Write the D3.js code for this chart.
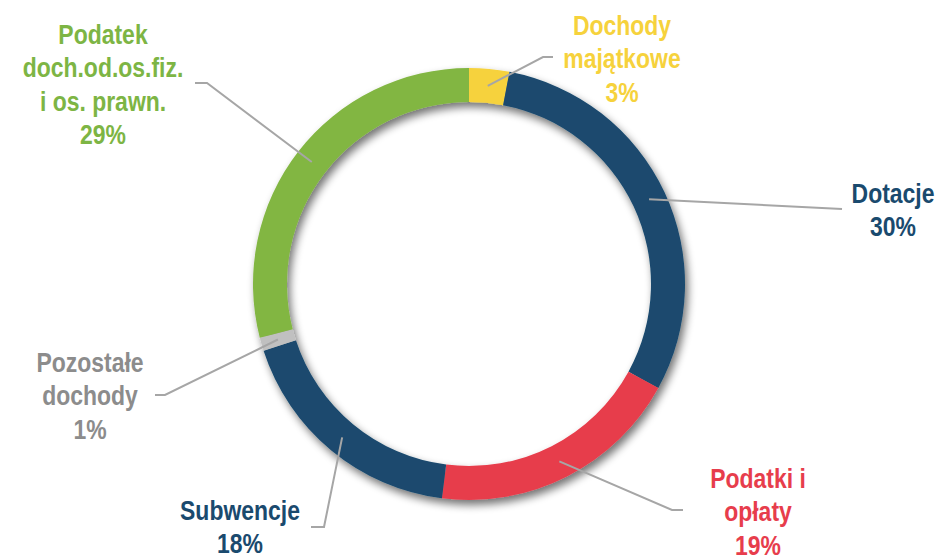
<!DOCTYPE html>
<html>
<head>
<meta charset="utf-8">
<script src="https://cdn.jsdelivr.net/npm/d3@7"></script>
<style>
  body { margin: 0; background: #fff; }
  text { font-family: "Liberation Sans Narrow", "Arial Narrow", "Liberation Sans", Arial, sans-serif; font-weight: bold; }
</style>
</head>
<body>
<div id="chart"></div>
<script>
// chart data
var categories = ["Dochody majątkowe", "Dotacje", "Podatki i opłaty", "Subwencje", "Pozostałe dochody", "Podatek doch.od.os.fiz. i os. prawn."];
var values = [3, 30, 19, 18, 1, 29];
var labelLines = [
  ["Dochody", "majątkowe", "3%"],
  ["Dotacje", "30%"],
  ["Podatki i", "opłaty", "19%"],
  ["Subwencje", "18%"],
  ["Pozostałe", "dochody", "1%"],
  ["Podatek", "doch.od.os.fiz.", "i os. prawn.", "29%"]
];
var colors = ["#F6D23C", "#1A4A6E", "#E73D4C", "#1A4A6E", "#C0C0C0", "#82B642"];
var textColors = ["#F6D23C", "#1A4A6E", "#E73D4C", "#1A4A6E", "#8C8C8C", "#7DB544"];

// label layout (text block centre x, first baseline y, elbow and end of leader)
var labelLayout = [
  { x: 622, y: 35, elbow: [543, 57], end: [553, 57] },
  { x: 893, y: 203, elbow: [842, 209], end: [842, 209] },
  { x: 758, y: 488, elbow: [672, 510], end: [683, 510] },
  { x: 240, y: 520, elbow: [324, 527], end: [311, 527] },
  { x: 90, y: 372, elbow: [165, 395], end: [155, 395] },
  { x: 103, y: 44, elbow: [207, 83], end: [195, 83] }
];

var width = 942;
var height = 555;
var cx = 469, cy = 284;
var outerR = 216, innerR = 182;
var lineH = 33.5;

var svg = d3.select("#chart")
  .append("svg")
  .attr("width", width)
  .attr("height", height);

// drop shadow for the ring
var defs = svg.append("defs");
var filter = defs.append("filter")
  .attr("id", "shadow")
  .attr("x", "-20%").attr("y", "-20%")
  .attr("width", "140%").attr("height", "140%");
filter.append("feGaussianBlur").attr("in", "SourceAlpha").attr("stdDeviation", 4);
filter.append("feOffset").attr("dx", 3).attr("dy", 5).attr("result", "off");
filter.append("feComponentTransfer").append("feFuncA").attr("type", "linear").attr("slope", 0.55);
var merge = filter.append("feMerge");
merge.append("feMergeNode");
merge.append("feMergeNode").attr("in", "SourceGraphic");

var pie = d3.pie().sort(null).value(function(d) { return d; });
var arcs = pie(values);

var arc = d3.arc().innerRadius(innerR).outerRadius(outerR);
var midArc = d3.arc().innerRadius((innerR + outerR) / 2).outerRadius((innerR + outerR) / 2);

var g = svg.append("g").attr("transform", "translate(" + cx + "," + cy + ")");

g.append("g")
  .attr("filter", "url(#shadow)")
  .selectAll("path")
  .data(arcs)
  .enter()
  .append("path")
  .attr("d", arc)
  .attr("fill", function(d, i) { return colors[i]; });

// leader lines
svg.selectAll("polyline.leader")
  .data(arcs)
  .enter()
  .append("polyline")
  .attr("class", "leader")
  .attr("fill", "none")
  .attr("stroke", "#A6A6A6")
  .attr("stroke-width", 2)
  .attr("points", function(d, i) {
    var c = midArc.centroid(d);
    var L = labelLayout[i];
    return [[cx + c[0], cy + c[1]], L.elbow, L.end].map(function(p) { return p.join(","); }).join(" ");
  });

// labels (no narrow font installed, so squeeze the regular one)
var labels = svg.selectAll("text.lbl")
  .data(arcs)
  .enter()
  .append("text")
  .attr("class", "lbl")
  .attr("text-anchor", "middle")
  .attr("font-size", 28)
  .attr("transform", function(d, i) { return "translate(" + labelLayout[i].x + ",0) scale(0.82,1)"; })
  .attr("fill", function(d, i) { return textColors[i]; });

labels.each(function(d, i) {
  var t = d3.select(this);
  labelLines[i].forEach(function(line, j) {
    t.append("tspan")
      .attr("x", 0)
      .attr("y", labelLayout[i].y + j * lineH)
      .text(line);
  });
});
</script>
</body>
</html>
